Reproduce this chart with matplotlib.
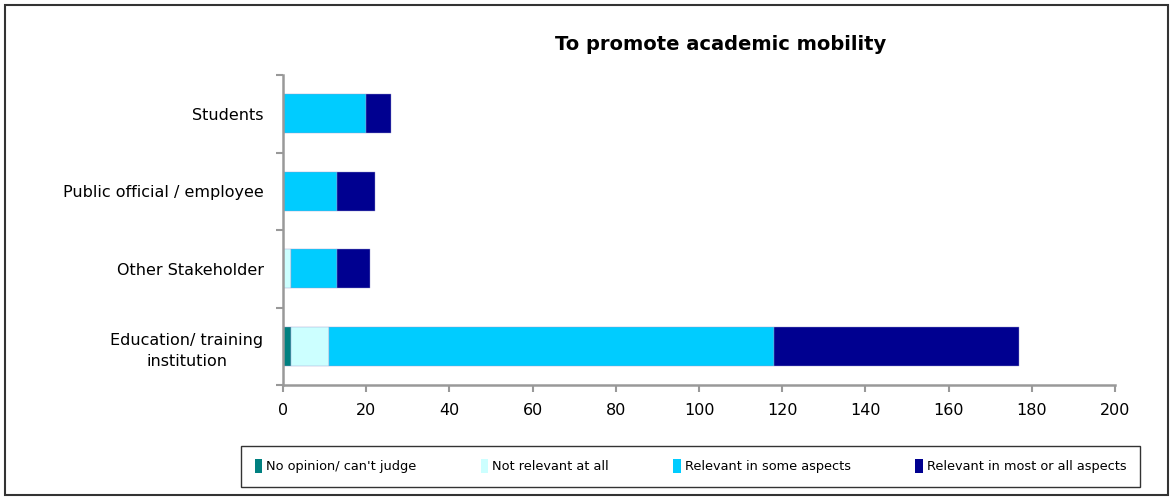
import numpy as np
import matplotlib
matplotlib.use("Agg")
import matplotlib.pyplot as plt
from matplotlib.patches import Rectangle

# Data
groups = ["Education/ training\ninstitution", "Other Stakeholder",
          "Public official / employee", "Students"]
series_names = ["No opinion/ can't judge", "Not relevant at all",
                "Relevant in some aspects", "Relevant in most or all aspects"]
no_opinion = [2, 0, 0, 0]
not_relevant = [9, 2, 0, 0]
some_aspects = [107, 11, 13, 20]
most_aspects = [59, 8, 9, 6]
colors = ["#008080", "#CCFFFF", "#00CCFF", "#000090"]

fig = plt.figure(figsize=(11.75, 5), dpi=100)
ax = fig.add_axes([283 / 1175, 1 - 385 / 500, (1115 - 283) / 1175, 310 / 500])

y = np.arange(len(groups))
left = np.zeros(len(groups))
for vals, name, c in zip([no_opinion, not_relevant, some_aspects, most_aspects],
                         series_names, colors):
    ax.barh(y, vals, left=left, height=0.5, color=c, label=name,
            edgecolor="#9999cc", linewidth=0.3)
    left += np.array(vals)

ax.set_xlim(0, 200)
ax.set_ylim(-0.5, 3.5)
ax.set_xticks(np.arange(0, 201, 20))
ax.set_yticks(y)
ax.set_yticklabels(groups, fontsize=11.5, ha="right", multialignment="center",
                   linespacing=1.5)
ax.tick_params(axis="y", length=0, pad=14)
ax.set_yticks(np.arange(-0.5, 3.6, 1), minor=True)
ax.tick_params(axis="y", which="minor", length=5, color="#999999", width=1.5)
ax.tick_params(axis="x", length=5, color="#999999", width=1.5, labelsize=11.5,
               pad=8)
for s in ["top", "right"]:
    ax.spines[s].set_visible(False)
for s in ["left", "bottom"]:
    ax.spines[s].set_color("#999999")
    ax.spines[s].set_linewidth(1.8)

fig.text(721 / 1175, 1 - 45 / 500, "To promote academic mobility",
         ha="center", va="center", fontsize=14, fontweight="bold")

leg = fig.legend(loc="lower left",
                 bbox_to_anchor=(241 / 1175, 1 - 487 / 500, (1140 - 241) / 1175, 43 / 500),
                 mode="expand", borderaxespad=0, ncol=4, fontsize=9.3,
                 frameon=True, fancybox=False, handlelength=0.6, handleheight=1.3,
                 handletextpad=0.3, borderpad=1.05, edgecolor="black")
leg.get_frame().set_linewidth(1.0)
for h in leg.legend_handles:
    h.set_edgecolor("none")

fig.patches.append(Rectangle((5 / 1175, 5 / 500), 1163 / 1175, 490 / 500,
                             transform=fig.transFigure, fill=False,
                             edgecolor="#333333", linewidth=1.5))

fig.savefig("out.png", dpi=100)
